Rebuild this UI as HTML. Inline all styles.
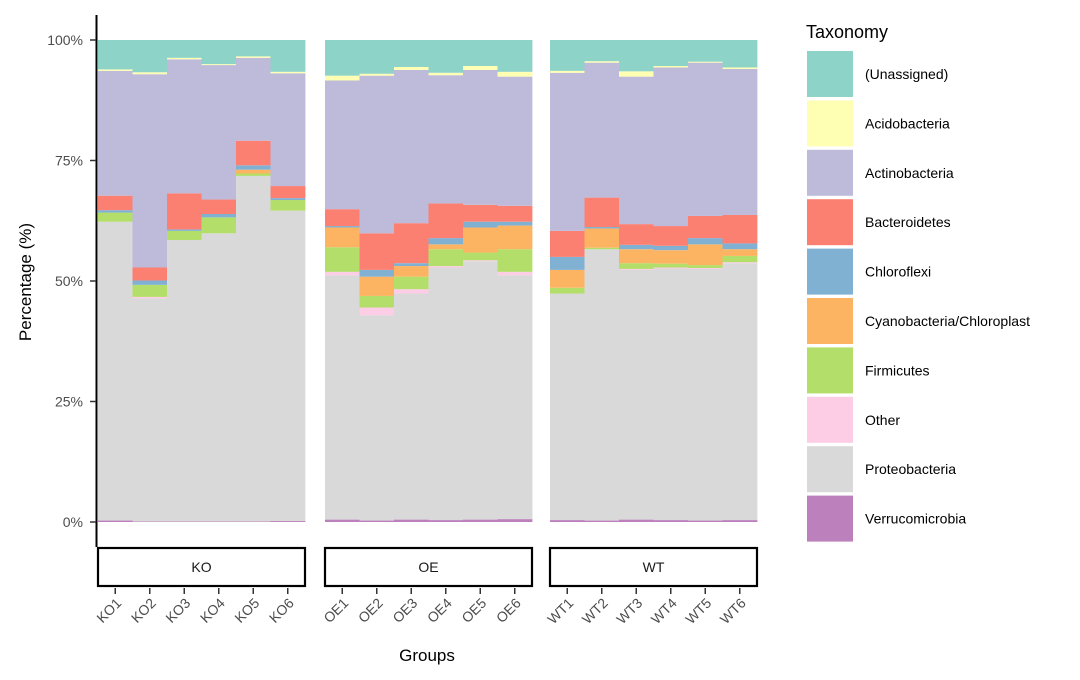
<!DOCTYPE html>
<html><head><meta charset="utf-8"><style>
body{margin:0;background:#fff;}
svg{display:block;font-family:"Liberation Sans",Arial,sans-serif;}
</style></head><body>
<svg id="chart" width="1080" height="680" xmlns="http://www.w3.org/2000/svg">
<g id="plot"></g>
<g id="axes"></g>
<g id="legend"></g>
</svg>
<script>
const taxa = ["Verrucomicrobia","Proteobacteria","Other","Firmicutes","Cyanobacteria/Chloroplast","Chloroflexi","Bacteroidetes","Actinobacteria","Acidobacteria","(Unassigned)"];
const colors = ["#BC80BD","#D9D9D9","#FCCDE5","#B3DE69","#FDB462","#80B1D3","#FB8072","#BEBADA","#FFFFB3","#8DD3C7"];
const groups = ["KO","OE","WT"];
const samples = [["KO1","KO2","KO3","KO4","KO5","KO6"],["OE1","OE2","OE3","OE4","OE5","OE6"],["WT1","WT2","WT3","WT4","WT5","WT6"]];
// per-sample values in taxa order (bottom to top)
const KO1=[0.3,62,0,1.9,0,0.5,3,25.9,0.3,6.1];
const KO2=[0.1,46.3,0.3,2.5,0,0.9,2.7,40.1,0.4,6.7];
const KO3=[0.1,58.4,0,1.9,0,0.3,7.5,27.8,0.3,3.7];
const KO4=[0.1,59.8,0,3.3,0,0.7,3,27.9,0.2,5.0];
const KO5=[0.1,71.7,0,0.5,0.8,0.9,5.1,17.2,0.3,3.4];
const KO6=[0.2,64.4,0,2.2,0,0.4,2.5,23.4,0.3,6.6];
const OE1=[0.5,50.7,0.7,5.1,4.1,0.3,3.5,26.7,1.0,7.4];
const OE2=[0.3,42.6,1.6,2.4,4.0,1.4,7.6,32.7,0.4,7.0];
const OE3=[0.5,46.9,0.9,2.6,2.2,0.6,8.3,31.8,0.6,5.6];
const OE4=[0.4,52.4,0.3,3.5,1.0,1.3,7.2,26.6,0.5,6.8];
const OE5=[0.5,53.6,0.2,1.6,5.2,1.2,3.5,28.0,0.8,5.4];
const OE6=[0.6,50.6,0.7,4.7,4.9,0.8,3.3,26.8,1.0,6.6];
const WT1=[0.4,47,0,1.2,3.7,2.7,5.4,32.8,0.4,6.4];
const WT2=[0.3,56.3,0,0.3,4.0,0.3,6.1,28.0,0.3,4.4];
const WT3=[0.5,51.8,0.2,1.2,2.9,0.9,4.3,30.6,1.1,6.5];
const WT4=[0.4,52.2,0.2,0.8,2.8,0.9,4.1,32.9,0.3,5.4];
const WT5=[0.3,52.2,0.2,0.6,4.3,1.3,4.6,31.8,0.2,4.5];
const WT6=[0.4,53.3,0.2,1.3,1.4,1.2,5.9,30.3,0.3,5.7];
const values = [[KO1,KO2,KO3,KO4,KO5,KO6],[OE1,OE2,OE3,OE4,OE5,OE6],[WT1,WT2,WT3,WT4,WT5,WT6]];
const yTicks = [0,25,50,75,100];
const yTickLabels = ["0%","25%","50%","75%","100%"];

const NS="http://www.w3.org/2000/svg";
function el(tag,attrs,parent,text){const e=document.createElementNS(NS,tag);for(const k in attrs)e.setAttribute(k,attrs[k]);if(text!==undefined)e.textContent=text;parent.appendChild(e);return e;}
const y0=522, y100=40;
function yScale(p){return y0-(y0-y100)*p/100;}
const panelX=[98,325,550], panelW=207;
function xBand(g,i){return panelX[g]+panelW*i/6;}
const plot=document.getElementById('plot'), axes=document.getElementById('axes'), legend=document.getElementById('legend');

groups.forEach((g,gi)=>{
  samples[gi].forEach((s,si)=>{
    const v=values[gi][si]; const tot=v.reduce((a,b)=>a+b,0);
    let cum=0;
    const x=xBand(gi,si), w=panelW/6;
    v.forEach((val,ti)=>{
      const p0=cum/tot*100; cum+=val; const p1=cum/tot*100;
      if(val<=0)return;
      const r=el('rect',{x:x.toFixed(2),y:yScale(p1).toFixed(2),width:(w+0.4).toFixed(2),height:(yScale(p0)-yScale(p1)).toFixed(2),fill:colors[ti]},plot);
      
      
    });
    const cx=x+w/2;
    const t=el('line',{x1:cx,y1:588,x2:cx,y2:594,stroke:'#333','stroke-width':1.5},axes);
    
    
    const lb=el('text',{x:cx+7,y:604,'text-anchor':'end','font-size':14,fill:'#4d4d4d',transform:`rotate(-45 ${cx+7} 604)`},axes,s);
    
    
  });
  const st=el('rect',{x:panelX[gi],y:548,width:panelW,height:38,fill:'#fff',stroke:'#000','stroke-width':2.2},axes);
  
  
  const stt=el('text',{x:panelX[gi]+panelW/2,y:572,'text-anchor':'middle','font-size':14,fill:'#1a1a1a'},axes,g);
  
  
});

const ax=el('line',{x1:96.5,y1:15,x2:96.5,y2:547,stroke:'#000','stroke-width':2},axes);


yTicks.forEach((v,i)=>{
  const y=yScale(v);
  const t=el('line',{x1:90,y1:y,x2:96,y2:y,stroke:'#333','stroke-width':1.5},axes);
  
  
  const l=el('text',{x:83,y:y+5,'text-anchor':'end','font-size':14,fill:'#4d4d4d'},axes,yTickLabels[i]);
  
  
});
const yt=el('text',{x:31,y:282,'text-anchor':'middle','font-size':17,fill:'#000',transform:'rotate(-90 31 282)'},axes,'Percentage (%)');


const xt=el('text',{x:427,y:661,'text-anchor':'middle','font-size':17,fill:'#000'},axes,'Groups');



const lt=el('text',{x:806,y:38,'font-size':18,fill:'#000'},legend,'Taxonomy');


const order=[9,8,7,6,5,4,3,2,1,0];
order.forEach((ti,k)=>{
  const y=51+k*49.4;
  const r=el('rect',{x:807,y:y,width:46,height:46,fill:colors[ti]},legend);
  
  
  const t=el('text',{x:865,y:y+28,'font-size':14,fill:'#000'},legend,taxa[ti]);
  
  
});
</script>
</body></html>
